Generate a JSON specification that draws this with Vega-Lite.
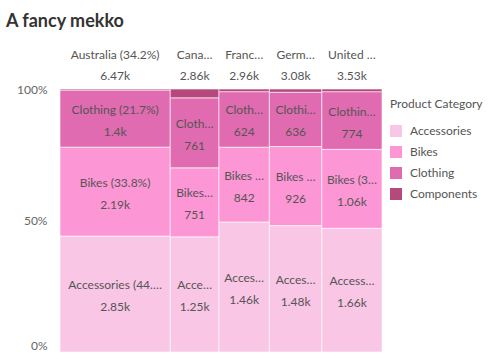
{
  "$schema": "https://vega.github.io/schema/vega-lite/v6.json",
  "width": 322,
  "height": 263,
  "autosize": "none",
  "padding": {"left": 60, "top": 89, "right": 118, "bottom": 7},
  "background": "white",
  "config": {"font": "Lato", "view": {"stroke": null}},
  "title": {"text": "A fancy mekko", "anchor": "start", "frame": "group", "fontSize": 18, "fontWeight": "bold", "color": "#333333", "offset": 18, "dx": -54},
  "data": {"values": [
    {"country": "Australia", "category": "Accessories", "value": 2852},
    {"country": "Australia", "category": "Bikes", "value": 2188},
    {"country": "Australia", "category": "Clothing", "value": 1404},
    {"country": "Australia", "category": "Components", "value": 26},
    {"country": "Canada", "category": "Accessories", "value": 1252},
    {"country": "Canada", "category": "Bikes", "value": 751},
    {"country": "Canada", "category": "Clothing", "value": 761},
    {"country": "Canada", "category": "Components", "value": 96},
    {"country": "France", "category": "Accessories", "value": 1462},
    {"country": "France", "category": "Bikes", "value": 842},
    {"country": "France", "category": "Clothing", "value": 624},
    {"country": "France", "category": "Components", "value": 30},
    {"country": "Germany", "category": "Accessories", "value": 1480},
    {"country": "Germany", "category": "Bikes", "value": 926},
    {"country": "Germany", "category": "Clothing", "value": 636},
    {"country": "Germany", "category": "Components", "value": 38},
    {"country": "United Kingdom", "category": "Accessories", "value": 1660},
    {"country": "United Kingdom", "category": "Bikes", "value": 1060},
    {"country": "United Kingdom", "category": "Clothing", "value": 774},
    {"country": "United Kingdom", "category": "Components", "value": 36}
  ]},
  "transform": [
    {"joinaggregate": [{"op": "sum", "field": "value", "as": "countryTotal"}], "groupby": ["country"]},
    {"joinaggregate": [{"op": "sum", "field": "value", "as": "grandTotal"}]},
    {"stack": "value", "groupby": [], "sort": [{"field": "country", "order": "ascending"}, {"field": "category", "order": "ascending"}], "offset": "normalize", "as": ["sx0", "sx1"]},
    {"joinaggregate": [{"op": "min", "field": "sx0", "as": "x0"}, {"op": "max", "field": "sx1", "as": "x1"}], "groupby": ["country"]},
    {"stack": "value", "groupby": ["country"], "sort": [{"field": "category", "order": "ascending"}], "offset": "normalize", "as": ["y0", "y1"]},
    {"calculate": "(datum.x0 + datum.x1) / 2", "as": "xm"},
    {"calculate": "(datum.y0 + datum.y1) / 2", "as": "ym"}
  ],
  "layer": [
    {
      "mark": {"type": "rect", "stroke": "white", "strokeWidth": 1, "strokeOpacity": 0.6},
      "encoding": {
        "x": {"field": "x0", "type": "quantitative", "scale": {"domain": [0, 1], "nice": false}, "axis": null},
        "x2": {"field": "x1"},
        "y": {"field": "y0", "type": "quantitative", "scale": {"domain": [0, 1], "nice": false},
              "axis": {"values": [0, 0.5, 1], "format": "%", "title": null, "domain": false, "ticks": false, "grid": false, "labelPadding": 13, "labelColor": "#666666", "labelFontSize": 12,
                       "labelBaseline": {"condition": {"test": "datum.value == 0", "value": "bottom"}, "value": "middle"}}},
        "y2": {"field": "y1"},
        "color": {"field": "category", "type": "nominal",
                  "scale": {"domain": ["Accessories", "Bikes", "Clothing", "Components"], "range": ["#fac6e5", "#fd96d5", "#e16bb0", "#b5497c"]},
                  "legend": {"title": "Product Category", "titleFontWeight": "normal", "titleFontSize": 12, "titleColor": "#555555", "labelFontSize": 12, "labelColor": "#555555", "symbolType": "square", "symbolSize": 144, "symbolStrokeWidth": 0, "symbolOpacity": 1, "offset": -2, "rowPadding": 9, "titlePadding": 14, "padding": 10, "labelOffset": 8}}
      }
    },
    {
      "transform": [
        {"filter": "datum.y1 - datum.y0 > 0.05"},
        {"calculate": "datum.category + ' (' + format(datum.value / datum.countryTotal, '.1%') + ')\\n' + format(datum.value, '.3~s')", "as": "label"}
      ],
      "mark": {"type": "text", "lineBreak": "\n", "lineHeight": 22, "fontSize": 12, "color": "#555555", "baseline": "middle", "align": "center", "dy": -9,
               "limit": {"expr": "scale('x', datum.x1) - scale('x', datum.x0) - 10"}},
      "encoding": {
        "x": {"field": "xm", "type": "quantitative"},
        "y": {"field": "ym", "type": "quantitative"},
        "text": {"field": "label"}
      }
    },
    {
      "transform": [
        {"filter": "datum.category == 'Accessories'"},
        {"calculate": "datum.country + ' (' + format(datum.countryTotal / datum.grandTotal, '.1%') + ')\\n' + format(datum.countryTotal, '.3~s')", "as": "label"}
      ],
      "mark": {"type": "text", "lineBreak": "\n", "lineHeight": 21, "fontSize": 12, "color": "#555555", "baseline": "middle", "align": "center", "clip": false, "dy": -9.5,
               "limit": {"expr": "scale('x', datum.x1) - scale('x', datum.x0) - 10"}},
      "encoding": {
        "x": {"field": "xm", "type": "quantitative"},
        "y": {"datum": 1.095},
        "text": {"field": "label"}
      }
    }
  ]
}
